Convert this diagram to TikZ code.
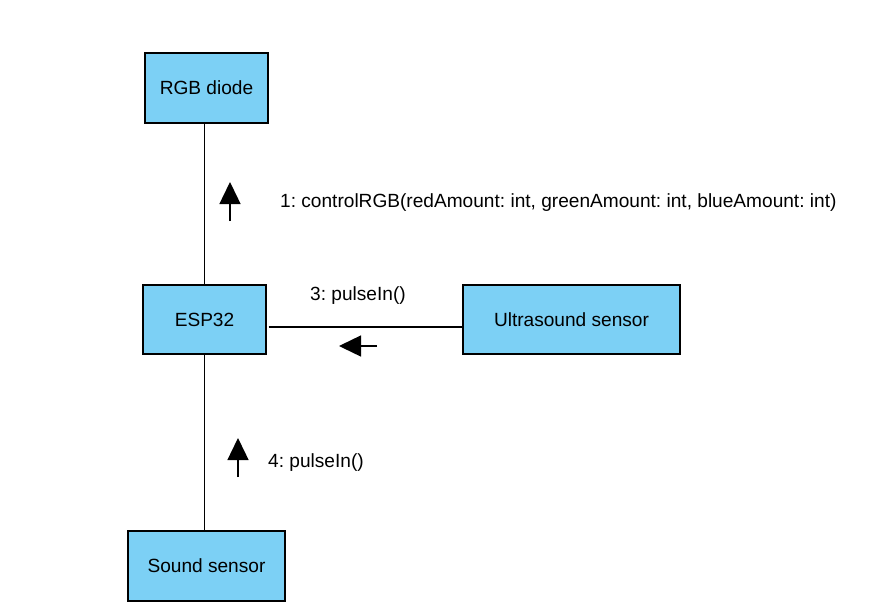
\documentclass[tikz,border=0pt]{standalone}
\usepackage{fontspec}
\setmainfont{Liberation Sans}
\usetikzlibrary{positioning,arrows.meta}
\definecolor{partblue}{RGB}{124,208,245}

\begin{document}
\frenchspacing
\begin{tikzpicture}[x=1pt,y=-1pt,
    every node/.style={font=\fontsize{19.1}{22}\selectfont},
    part/.style={draw, line width=1.4pt, fill=partblue, inner sep=0pt},
    msg/.style={-{Triangle[length=22pt,width=21pt]}, line width=1.4pt}]

    \useasboundingbox (0,0) rectangle (890,610);

    % the parts
    \node[part, minimum width=123pt, minimum height=70pt] (rgb) at (206.5,88) {RGB diode};
    \node[part, minimum width=123pt, minimum height=69pt] (esp) at (204.5,319.5) {ESP32};
    \node[part, minimum width=217pt, minimum height=69pt] (ultra) at (571.5,319.5) {Ultrasound sensor};
    \node[part, minimum width=157pt, minimum height=70pt] (sound) at (206.5,566) {Sound sensor};

    % the links
    \path[draw, line width=1.4pt] (esp.north) -- (esp.north |- rgb.south);
    \path[draw, line width=1.4pt] ([xshift=2pt,yshift=-7.5pt]esp.east) -- ([yshift=-7.5pt]ultra.west);
    \path[draw, line width=1.4pt] (esp.south) -- (esp.south |- sound.north);

    % the messages
    \coordinate (m1) at (230,221);
    \coordinate (m3) at (377,346);
    \coordinate (m4) at (238,477);
    \path[draw, msg] (m1) -- ++(0,-39);
    \node[anchor=west, inner sep=0pt] (l1) at (280,203) {1: controlRGB(redAmount: int, greenAmount: int, blueAmount: int)};
    \path[draw, msg] (m3) -- ++(-38,0);
    \node (l3) at (358,296) {3: pulseIn()};
    \path[draw, msg] (m4) -- ++(0,-39);
    \node[anchor=west, inner sep=0pt] (l4) at (268,463) {4: pulseIn()};

\end{tikzpicture}
\end{document}
